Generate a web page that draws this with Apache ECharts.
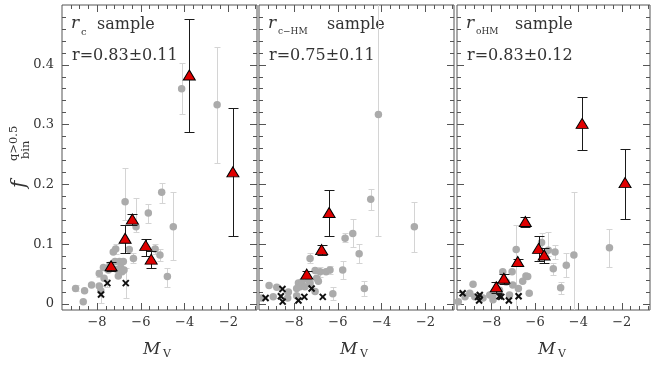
<!DOCTYPE html>
<html><head><meta charset="utf-8">
<script src="https://cdn.jsdelivr.net/npm/echarts@6/dist/echarts.min.js"></script>
<style>html,body{margin:0;padding:0;background:#fff}#c{width:654px;height:369px}</style>
</head><body><div id="c"></div>
<script>
// ---------- tick values ----------
const xMajor = [-8, -6, -4, -2];
const xMinor = [-9.2, -8.8, -8.4, -7.6, -7.2, -6.8, -6.4, -5.6, -5.2, -4.8, -4.4, -3.6, -3.2, -2.8, -2.4, -1.6, -1.2, -0.8];
const yMajor = [0, 0.1, 0.2, 0.3, 0.4];
const yMinor = [0.02, 0.04, 0.06, 0.08, 0.12, 0.14, 0.16, 0.18, 0.22, 0.24, 0.26, 0.28, 0.32, 0.34, 0.36, 0.38, 0.42, 0.44, 0.46, 0.48];

// ---------- panel texts ----------
const panelSub = ['c', 'c\u2212HM', 'oHM'];
const panelR = ['r=0.83\u00b10.11', 'r=0.75\u00b10.11', 'r=0.83\u00b10.12'];

// ---------- data: [M_V, f, low, high] ----------
const rcRed = [[-7.36,0.064,0.056,0.071],[-6.72,0.110,0.086,0.132],[-6.39,0.142,0.132,0.150],[-5.78,0.098,0.081,0.109],[-5.53,0.075,0.060,0.089],[-3.79,0.383,0.288,0.477],[-1.80,0.221,0.114,0.327]];
const rcGray = [[-8.98,0.026,0.021,0.031],[-8.63,0.004,null,null],[-8.57,0.022,null,null],[-8.25,0.032,null,null],[-7.90,0.051,0.045,0.057],[-7.90,0.030,null,null],[-7.83,0.022,null,null],[-7.71,0.061,null,null],[-7.68,0.043,null,null],[-7.48,0.057,null,null],[-7.41,0.065,null,null],[-7.26,0.087,null,null],[-7.15,0.092,0.084,0.101],[-7.18,0.071,null,null],[-7.10,0.058,null,null],[-7.03,0.047,null,null],[-6.98,0.071,null,null],[-6.92,0.061,null,null],[-6.86,0.054,null,null],[-6.80,0.071,null,null],[-6.77,0.057,null,null],[-6.72,0.171,0.140,0.227],[-6.53,0.091,null,null],[-6.34,0.076,0.068,0.085],[-6.22,0.129,0.120,0.177],[-5.66,0.152,0.135,0.168],[-5.35,0.092,0.083,0.101],[-5.13,0.082,0.072,0.092],[-5.05,0.187,0.169,0.203],[-4.79,0.046,0.029,0.061],[-4.52,0.129,0.074,0.187],[-4.14,0.360,0.317,0.403],[-2.52,0.333,0.236,0.429]];
const rcCross = [[-7.82,0.016,0.002,0.030],[-7.53,0.035,0.028,0.042],[-6.69,0.035,0.010,0.060]];

const rchmRed = [[-6.40,0.153,0.113,0.190],[-6.74,0.091,0.082,0.098],[-7.42,0.050,0.044,0.056]];
const rchmGray = [[-4.15,0.317,0.114,0.700],[-4.50,0.175,0.157,0.193],[-2.51,0.129,0.087,0.171],[-5.32,0.118,0.095,0.142],[-5.67,0.110,0.104,0.118],[-5.03,0.084,0.068,0.100],[-5.78,0.057,0.042,0.072],[-4.79,0.026,0.013,0.038],[-6.23,0.017,0.007,0.028],[-7.27,0.076,0.068,0.085],[-7.04,0.056,null,null],[-6.81,0.054,0.046,0.062],[-6.54,0.054,null,null],[-6.36,0.057,0.050,0.064],[-6.97,0.043,null,null],[-6.89,0.038,null,null],[-7.80,0.035,null,null],[-7.73,0.029,null,null],[-7.88,0.026,null,null],[-7.65,0.037,null,null],[-7.50,0.029,null,null],[-7.35,0.040,null,null],[-7.04,0.021,null,null],[-7.27,0.035,null,null],[-9.14,0.031,null,null],[-8.79,0.028,null,null],[-8.26,0.020,null,null],[-9.48,0.010,null,null],[-8.95,0.012,null,null],[-7.88,0.014,null,null],[-8.29,0.010,null,null]];
const rchmCross = [[-9.30,0.010,null,null],[-8.53,0.025,null,null],[-8.60,0.013,null,null],[-8.52,0.004,null,null],[-7.80,0.006,null,null],[-7.53,0.012,null,null],[-7.20,0.026,null,null],[-6.69,0.012,null,null]];

const rohmRed = [[-3.83,0.302,0.258,0.346],[-1.85,0.203,0.143,0.260],[-6.45,0.138,0.128,0.146],[-5.84,0.093,0.072,0.113],[-5.58,0.082,0.068,0.093],[-6.80,0.071,0.064,0.076],[-7.44,0.043,0.033,0.051],[-7.79,0.029,0.019,0.036]];
const rohmGray = [[-4.21,0.082,-0.01,0.188],[-4.56,0.065,0.046,0.086],[-4.82,0.027,0.017,0.037],[-5.16,0.059,0.049,0.068],[-5.08,0.087,0.076,0.098],[-5.39,0.090,0.080,0.121],[-5.70,0.103,0.090,0.118],[-2.57,0.094,0.062,0.125],[-6.87,0.091,-0.01,0.132],[-6.42,0.047,null,null],[-6.57,0.038,null,null],[-6.27,0.018,null,null],[-6.77,0.026,null,null],[-7.06,0.054,null,null],[-7.03,0.032,null,null],[-7.18,0.015,null,null],[-7.49,0.054,null,null],[-7.33,0.037,null,null],[-7.64,0.023,null,null],[-7.94,0.015,null,null],[-7.94,0.007,null,null],[-8.86,0.033,null,null],[-9.01,0.018,null,null],[-9.23,0.012,null,null],[-9.54,0.004,null,null],[-8.40,0.010,null,null],[-8.09,0.015,null,null],[-8.78,0.012,null,null],[-6.34,0.046,null,null]];
const rohmCross = [[-9.34,0.018,null,null],[-8.63,0.012,null,null],[-8.55,0.015,null,null],[-8.58,0.006,null,null],[-7.64,0.013,null,null],[-7.56,0.012,null,null],[-7.21,0.006,null,null],[-6.76,0.013,null,null]];

const panels = [
  {red: rcRed, gray: rcGray, cross: rcCross},
  {red: rchmRed, gray: rchmGray, cross: rchmCross},
  {red: rohmRed, gray: rohmGray, cross: rohmCross}
];

// ---------- layout ----------
const FONT = 'DejaVu Serif';
const TXT = '#333';
const FRAME = '#555';
const lefts = [62, 259, 457];
const widths = [195, 195, 193];
const sampleOff = [35, 68, 58];
const subSize = [10, 9, 9];

const grid = lefts.map((l, i) => ({left: l, top: 5, width: widths[i], height: 305, show: true,
  borderColor: FRAME, borderWidth: 1, backgroundColor: 'transparent'}));

const fmtX = v => String(v).replace('-', '\u2212');
const fmtY = v => (v === 0 ? '0' : v.toFixed(1));

function xAx(gi, pos, major) {
  return {type: 'value', gridIndex: gi, position: pos, min: -9.6, max: -0.7,
    axisLine: {show: false, onZero: false}, splitLine: {show: false},
    axisTick: {show: true, inside: true, length: major ? 7 : 4, lineStyle: {color: FRAME}, customValues: major ? xMajor : xMinor},
    axisLabel: {show: major && pos === 'bottom', customValues: xMajor, formatter: fmtX, margin: 6,
      fontFamily: FONT, fontSize: 13, color: TXT}};
}
function yAx(gi, pos, major) {
  return {type: 'value', gridIndex: gi, position: pos, min: -0.01, max: 0.5,
    axisLine: {show: false, onZero: false}, splitLine: {show: false},
    axisTick: {show: true, inside: true, length: major ? 7 : 4, lineStyle: {color: FRAME}, customValues: major ? yMajor : yMinor},
    axisLabel: {show: major && pos === 'left' && gi === 0, customValues: yMajor, formatter: fmtY, margin: 8,
      fontFamily: FONT, fontSize: 13, color: TXT}};
}
const xAxis = [], yAxis = [];
for (let g = 0; g < 3; g++) {
  xAxis.push(xAx(g, 'bottom', true), xAx(g, 'bottom', false), xAx(g, 'top', true), xAx(g, 'top', false));
  yAxis.push(yAx(g, 'left', true), yAx(g, 'left', false), yAx(g, 'right', true), yAx(g, 'right', false));
}

function errRender(color, cap, lw) {
  return function (params, api) {
    const x = api.value(0), lo = api.value(1), hi = api.value(2);
    const p1 = api.coord([x, lo]), p2 = api.coord([x, hi]);
    const cx = Math.round(p1[0]) + 0.5;
    const y1 = Math.round(p1[1]) + 0.5, y2 = Math.round(p2[1]) + 0.5;
    const st = {stroke: color, lineWidth: lw};
    return {type: 'group', children: [
      {type: 'line', shape: {x1: cx, y1: y1, x2: cx, y2: y2}, style: st},
      {type: 'line', shape: {x1: cx - cap, y1: y1, x2: cx + cap, y2: y1}, style: st},
      {type: 'line', shape: {x1: cx - cap, y1: y2, x2: cx + cap, y2: y2}, style: st}
    ]};
  };
}
function crossRender(params, api) {
  const p = api.coord([api.value(0), api.value(1)]);
  const s = 3;
  const st = {stroke: '#111', lineWidth: 2};
  return {type: 'group', children: [
    {type: 'line', shape: {x1: p[0] - s, y1: p[1] - s, x2: p[0] + s, y2: p[1] + s}, style: st},
    {type: 'line', shape: {x1: p[0] - s, y1: p[1] + s, x2: p[0] + s, y2: p[1] - s}, style: st}
  ]};
}
const withErr = arr => arr.filter(d => d[2] !== null && d[2] !== undefined).map(d => [d[0], d[2], d[3]]);

const series = [];
panels.forEach((p, g) => {
  const ax = {xAxisIndex: 4 * g, yAxisIndex: 4 * g};
  series.push(Object.assign({type: 'custom', clip: true, renderItem: errRender('#d4d4d4', 3, 1),
    data: withErr(p.gray).concat(withErr(p.cross)), encode: {x: 0, y: [1, 2]}, silent: true, z: 1}, ax));
  series.push(Object.assign({type: 'scatter', symbol: 'circle', symbolSize: 7.5,
    itemStyle: {color: '#ababab', opacity: 1}, data: p.gray.map(d => [d[0], d[1]]), z: 2}, ax));
  series.push(Object.assign({type: 'custom', renderItem: crossRender,
    data: p.cross.map(d => [d[0], d[1]]), encode: {x: 0, y: 1}, z: 3}, ax));
  series.push(Object.assign({type: 'custom', clip: true, renderItem: errRender('#1a1a1a', 5, 1),
    data: p.red.map(d => [d[0], d[2], d[3]]), encode: {x: 0, y: [1, 2]}, z: 4}, ax));
  series.push(Object.assign({type: 'scatter', symbol: 'triangle', symbolSize: [12, 10],
    itemStyle: {color: '#e00000', borderColor: '#000', borderWidth: 1, opacity: 1},
    data: p.red.map(d => [d[0], d[1]]), z: 5}, ax));
});

const graphic = [];
lefts.forEach((l, i) => {
  graphic.push({type: 'text', x: l + 9, y: 24, style: {text: 'r', font: 'italic 17px "' + FONT + '"', fill: TXT, textAlign: 'left', textVerticalAlign: 'middle'}});
  graphic.push({type: 'text', x: l + 19, y: 32, style: {text: panelSub[i], font: subSize[i] + 'px "' + FONT + '"', fill: TXT, textAlign: 'left', textVerticalAlign: 'middle'}});
  graphic.push({type: 'text', x: l + sampleOff[i], y: 24.5, style: {text: 'sample', font: '16px "' + FONT + '"', fill: TXT, textAlign: 'left', textVerticalAlign: 'middle'}});
  graphic.push({type: 'text', x: l + 10, y: 55.5, style: {text: panelR[i], font: '16px "' + FONT + '"', fill: TXT, textAlign: 'left', textVerticalAlign: 'middle'}});
  graphic.push({type: 'text', x: l + 81, y: 349.5, style: {text: 'M', font: 'italic 17px "' + FONT + '"', fill: TXT, textAlign: 'left', textVerticalAlign: 'middle'}});
  graphic.push({type: 'text', x: l + 101, y: 354.5, style: {text: 'V', font: '11px "' + FONT + '"', fill: TXT, textAlign: 'left', textVerticalAlign: 'middle'}});
});
graphic.push({type: 'group', x: 20, y: 188, rotation: Math.PI / 2, children: [
  {type: 'text', x: 0, y: 0, style: {text: 'f', font: 'italic 20px "' + FONT + '"', fill: TXT, textAlign: 'left', textVerticalAlign: 'middle'}},
  {type: 'text', x: 27, y: -5.5, style: {text: 'q>0.5', font: '11.5px "' + FONT + '"', fill: TXT, textAlign: 'left', textVerticalAlign: 'middle'}},
  {type: 'text', x: 29, y: 6.5, style: {text: 'bin', font: '11.5px "' + FONT + '"', fill: TXT, textAlign: 'left', textVerticalAlign: 'middle'}}
]});

const chart = echarts.init(document.getElementById('c'), null, {renderer: 'canvas'});
chart.setOption({animation: false, backgroundColor: '#fff', grid, xAxis, yAxis, series, graphic});
</script>
</body></html>
